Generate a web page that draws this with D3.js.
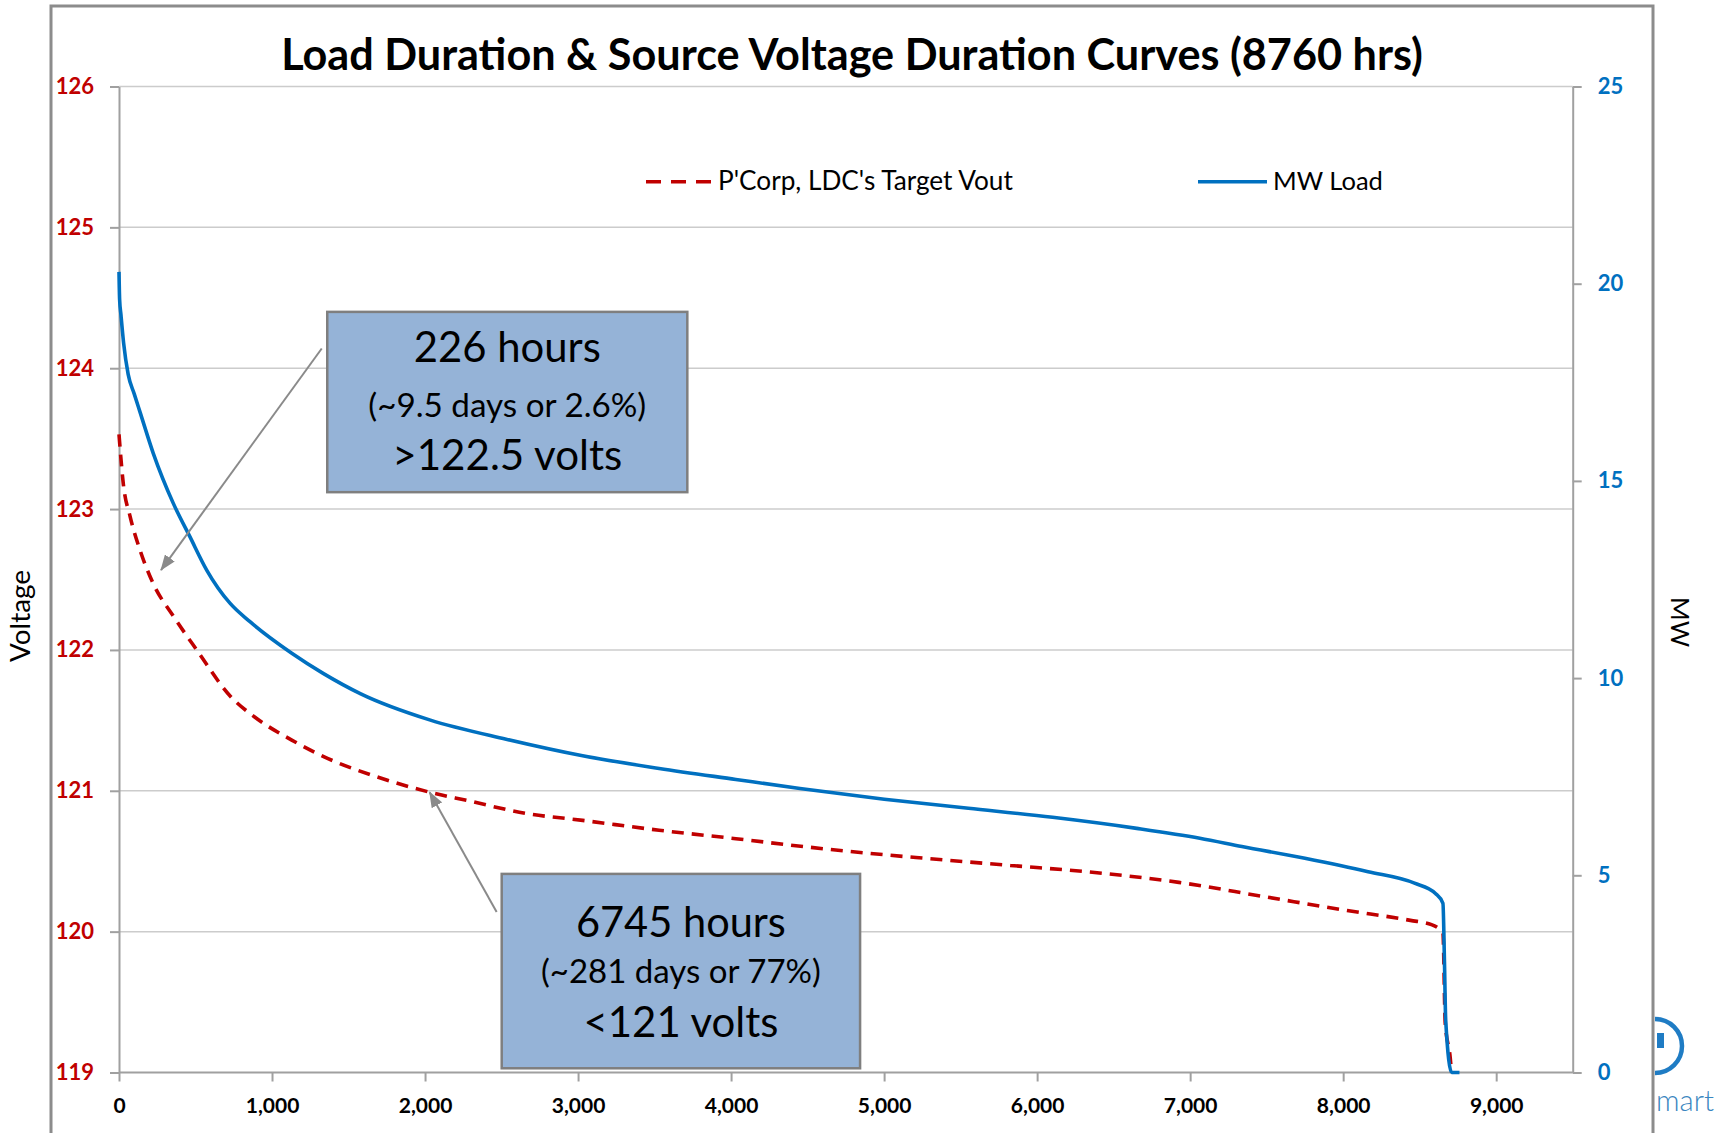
<!DOCTYPE html>
<html lang="en">
<head>
  <meta charset="UTF-8">
  <title>Load Duration & Source Voltage Duration Curves</title>
  <style>
    body { margin: 0; background: #fff; }
    svg { display: block; font-family: Lato, "Open Sans", sans-serif; }
  </style>
</head>
<body>
  <svg id="chart" width="1719" height="1133"></svg>

  <script src="https://d3js.org/d3.v7.min.js"></script>
  <script>
    // Values (hours sorted by duration)
    const voltHours = [0, 28, 72, 137, 224, 355, 508, 729, 904, 1129, 1405, 1655, 2030, 2280, 2655, 3030,
      3530, 4031, 4505, 4863, 5275, 5825, 6376, 6926, 7476, 8026, 8439, 8577, 8652, 8667, 8700, 8708];
    const voltValues = [123.53, 123.18, 122.95, 122.71, 122.47, 122.24, 122.0, 121.67, 121.51, 121.36, 121.21,
      121.11, 120.99, 120.93, 120.84, 120.79, 120.72, 120.66, 120.60, 120.56, 120.52, 120.47, 120.42, 120.35,
      120.25, 120.15, 120.08, 120.05, 119.99, 119.35, 119.1, 119.0];

    const loadHours = [0, 4, 13, 30, 60, 100, 137, 224, 355, 464, 573, 725, 856, 1129, 1334, 1580, 2030, 2530,
      3030, 3530, 4031, 4450, 5001, 5551, 6101, 6651, 7063, 7338, 7750, 8163, 8466, 8603, 8652, 8662, 8670, 8709, 8760];
    const loadMW = [20.3, 19.6, 19.2, 18.5, 17.7, 17.2, 16.75, 15.7, 14.43, 13.58, 12.74, 11.9, 11.43, 10.63,
      10.12, 9.6, 8.94, 8.45, 8.03, 7.71, 7.43, 7.2, 6.93, 6.70, 6.47, 6.19, 5.94, 5.73, 5.43, 5.09, 4.80, 4.54,
      4.29, 2.8, 1.33, 0, 0];

    const xTicks = [0, 1000, 2000, 3000, 4000, 5000, 6000, 7000, 8000, 9000];
    const voltTicks = [119, 120, 121, 122, 123, 124, 125, 126];
    const mwTicks = [0, 5, 10, 15, 20, 25];

    const seriesNames = ["P'Corp, LDC's Target Vout", "MW Load"];
    const red = "#C00000", blue = "#0070C0";

    const svg = d3.select("#chart");
    const plot = { left: 119, right: 1572.7, top: 86.5, bottom: 1072.5 };

    const x = d3.scaleLinear().domain([0, 9500]).range([plot.left, plot.right]);
    const yV = d3.scaleLinear().domain([119, 126]).range([plot.bottom, plot.top]);
    const yM = d3.scaleLinear().domain([0, 25]).range([plot.bottom, plot.top]);

    // shrink/grow a text's font-size so it spans a given width
    function fit(sel, w) {
      const len = sel.node().getComputedTextLength();
      sel.attr("font-size", parseFloat(sel.attr("font-size")) * w / len);
      return sel;
    }

    // outer frame of the chart object
    svg.append("rect")
      .attr("x", 51).attr("y", 6).attr("width", 1602).attr("height", 1140)
      .attr("fill", "none").attr("stroke", "#8c8c8c").attr("stroke-width", 3);

    // gridlines
    svg.append("g").selectAll("line")
      .data(voltTicks.filter(d => d > 119))
      .enter().append("line")
      .attr("x1", plot.left).attr("x2", plot.right)
      .attr("y1", d => yV(d)).attr("y2", d => yV(d))
      .attr("stroke", "#cccccc").attr("stroke-width", 1.5);

    // axes
    const leftAxis = svg.append("g")
      .attr("transform", `translate(${plot.left},0)`)
      .call(d3.axisLeft(yV).tickValues(voltTicks).tickSize(9).tickSizeOuter(0).tickPadding(16)
        .tickFormat(d3.format("d")));
    leftAxis.selectAll("text").attr("fill", red);

    const rightAxis = svg.append("g")
      .attr("transform", `translate(${plot.right},0)`)
      .call(d3.axisRight(yM).tickValues(mwTicks).tickSize(9).tickSizeOuter(0).tickPadding(16)
        .tickFormat(d3.format("d")));
    rightAxis.selectAll("text").attr("fill", blue);

    const bottomAxis = svg.append("g")
      .attr("transform", `translate(0,${plot.bottom})`)
      .call(d3.axisBottom(x).tickValues(xTicks).tickSize(9).tickSizeOuter(0).tickPadding(17)
        .tickFormat(d3.format(",")));
    bottomAxis.select(".domain").attr("d", `M${plot.left},0H${plot.right}`);
    bottomAxis.selectAll("text").attr("fill", "#000");

    [leftAxis, rightAxis, bottomAxis].forEach(a => {
      a.selectAll(".domain, line").attr("stroke", "#a0a0a0").attr("stroke-width", 2);
      a.selectAll("text").attr("font-family", "Lato").attr("font-weight", "bold").attr("font-size", 21);
    });
    leftAxis.selectAll("text").attr("font-size", 22);
    rightAxis.selectAll("text").attr("font-size", 22);

    // axis titles
    fit(svg.append("text")
      .attr("transform", "translate(30,616) rotate(-90)")
      .attr("text-anchor", "middle").attr("font-size", 24)
      .text("Voltage"), 92);
    fit(svg.append("text")
      .attr("transform", "translate(1671,622) rotate(90)")
      .attr("text-anchor", "middle").attr("font-size", 24)
      .text("MW"), 50);

    // title
    fit(svg.append("text")
      .attr("x", 852).attr("y", 70)
      .attr("text-anchor", "middle").attr("font-weight", "bold").attr("font-size", 38)
      .text("Load Duration & Source Voltage Duration Curves (8760 hrs)"), 1142);

    // series
    const voltData = voltHours.map((h, i) => ({ h, v: voltValues[i] }));
    const loadData = loadHours.map((h, i) => ({ h, v: loadMW[i] }));

    svg.append("path")
      .datum(voltData)
      .attr("fill", "none").attr("stroke", red).attr("stroke-width", 3.6)
      .attr("stroke-dasharray", "12,8")
      .attr("d", d3.line().x(d => x(d.h)).y(d => yV(d.v)).curve(d3.curveMonotoneX));

    svg.append("path")
      .datum(loadData)
      .attr("fill", "none").attr("stroke", blue).attr("stroke-width", 3.6)
      .attr("stroke-linejoin", "round")
      .attr("d", d3.line().x(d => x(d.h)).y(d => yM(d.v)).curve(d3.curveMonotoneX));

    // legend
    const legend = svg.append("g");
    legend.append("line")
      .attr("x1", 646).attr("x2", 711).attr("y1", 181.7).attr("y2", 181.7)
      .attr("stroke", red).attr("stroke-width", 3.6).attr("stroke-dasharray", "15,10");
    fit(legend.append("text").attr("x", 718).attr("y", 190).attr("font-size", 22).text(seriesNames[0]), 295);
    legend.append("line")
      .attr("x1", 1198).attr("x2", 1267).attr("y1", 181.7).attr("y2", 181.7)
      .attr("stroke", blue).attr("stroke-width", 3.6);
    fit(legend.append("text").attr("x", 1273).attr("y", 190).attr("font-size", 22).text(seriesNames[1]), 110);

    // annotations (in data units of hours / volts)
    const boxes = [
      { h0: 1361, h1: 3714, v0: 124.40, v1: 123.12,
        lines: [["226 hours", 361.7, 187], ["(~9.5 days or 2.6%)", 416.7, 278], [">122.5 volts", 469.5, 230]] },
      { h0: 2501, h1: 4843, v0: 120.41, v1: 119.03,
        lines: [["6745 hours", 936.7, 210], ["(~281 days or 77%)", 983.3, 280], ["<121 volts", 1036.7, 195]] }
    ];
    const arrows = [
      { fromH: 1325, fromV: 124.14, toH: 274.5, toV: 122.567 },
      { fromH: 2468, fromV: 120.14, toH: 2030, toV: 120.99 }
    ];

    svg.append("defs").append("marker")
      .attr("id", "head").attr("viewBox", "0 0 16 12")
      .attr("refX", 15).attr("refY", 6)
      .attr("markerWidth", 16).attr("markerHeight", 12)
      .attr("markerUnits", "userSpaceOnUse").attr("orient", "auto")
      .append("path").attr("d", "M0,0L16,6L0,12Z").attr("fill", "#8a8a8a");

    arrows.forEach(a => {
      svg.append("line")
        .attr("x1", x(a.fromH)).attr("y1", yV(a.fromV))
        .attr("x2", x(a.toH)).attr("y2", yV(a.toV))
        .attr("stroke", "#8a8a8a").attr("stroke-width", 2)
        .attr("marker-end", "url(#head)");
    });

    boxes.forEach(b => {
      const bx = x(b.h0), bw = x(b.h1) - x(b.h0);
      svg.append("rect")
        .attr("x", bx).attr("y", yV(b.v0))
        .attr("width", bw).attr("height", yV(b.v1) - yV(b.v0))
        .attr("fill", "#95B3D7").attr("stroke", "#7f7f7f").attr("stroke-width", 2.5);
      b.lines.forEach(([t, y, w]) => {
        fit(svg.append("text")
          .attr("x", bx + bw / 2).attr("y", y)
          .attr("text-anchor", "middle").attr("font-size", 36)
          .text(t), w);
      });
    });

    // partial logo peeking out at the lower right
    svg.append("clipPath").attr("id", "logoClip")
      .append("rect").attr("x", 1655).attr("y", 980).attr("width", 80).attr("height", 160);
    const logo = svg.append("g").attr("clip-path", "url(#logoClip)");
    logo.append("circle").attr("cx", 1655).attr("cy", 1046).attr("r", 27)
      .attr("fill", "none").attr("stroke", "#1f7cc4").attr("stroke-width", 4.5);
    logo.append("rect").attr("x", 1657).attr("y", 1033).attr("width", 7).attr("height", 15).attr("fill", "#1f7cc4");
    fit(logo.append("text").attr("x", 1656).attr("y", 1111).attr("font-size", 28)
      .attr("font-weight", 300).attr("fill", "#3a86c0").text("mart"), 58);
  </script>
</body>
</html>
